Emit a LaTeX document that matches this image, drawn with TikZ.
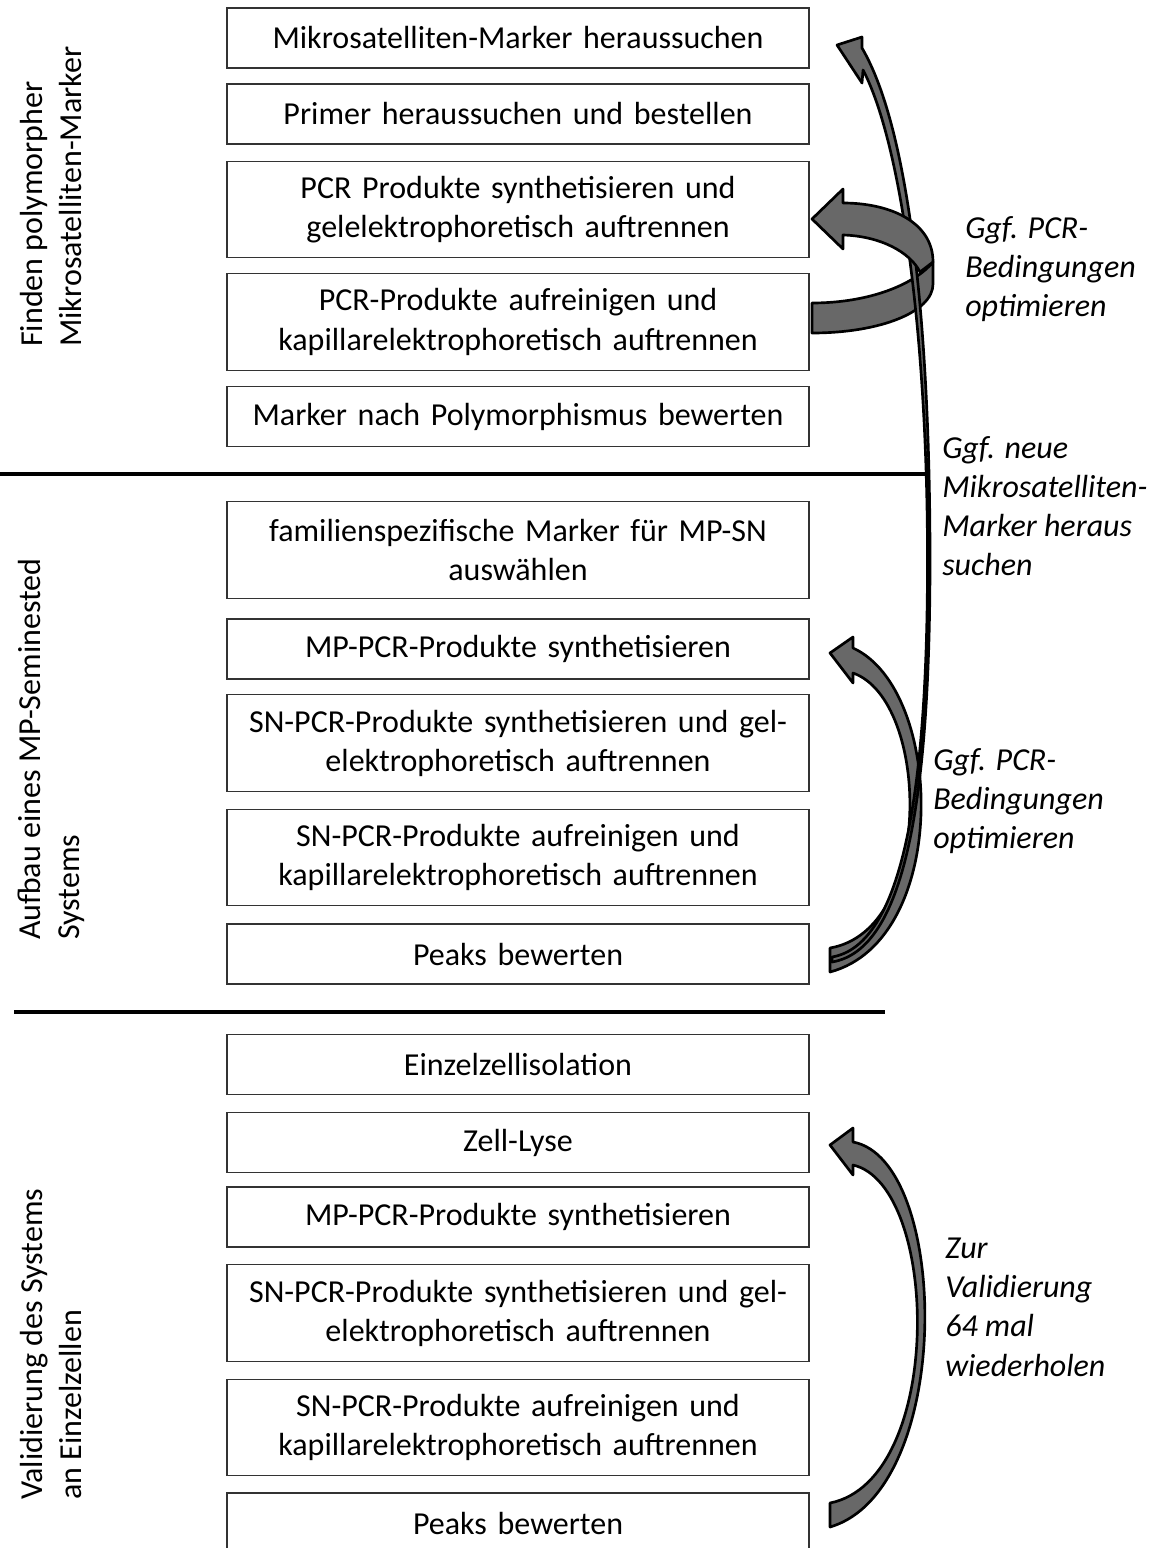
\documentclass[tikz,border=0pt]{standalone}
\usepackage{fontspec}
\setmainfont{Carlito}
\definecolor{arrowgray}{RGB}{104,104,104}
\begin{document}
\begin{tikzpicture}[x=0.75pt,y=-0.75pt,
  stepbox/.style={draw=black!80, line width=0.9pt, fill=white, minimum width=436.5pt,
    text width=425pt, align=center, inner sep=0pt,
    font=\fontsize{24}{29.3}\selectfont},
  onerow/.style={minimum height=45pt},
  tworow/.style={minimum height=72.5pt},
  sidelabel/.style={rotate=90, anchor=west, align=left, inner sep=0pt,
    font=\fontsize{24}{29.3}\selectfont},
  notelabel/.style={anchor=north west, align=left, inner sep=0pt,
    font=\fontsize{24}{29.3}\selectfont\itshape},
  divider/.style={line width=2.8pt, black},
  bentarrow/.style={fill=arrowgray, draw=black, line width=2pt, line join=round}]

\useasboundingbox (0,0) rectangle (1159,1548);

% ---- phase 1: finding polymorphic markers
\node[stepbox, onerow] (s1) at (518,38)    {Mikrosatelliten-Marker heraussuchen};
\node[stepbox, onerow] (s2) at (518,114)   {Primer heraussuchen und bestellen};
\node[stepbox, tworow] (s3) at (518,209.5) {PCR Produkte synthetisieren und\\gelelektrophoretisch auftrennen};
\node[stepbox, tworow] (s4) at (518,322)   {PCR-Produkte aufreinigen und\\kapillarelektrophoretisch auftrennen};
\node[stepbox, onerow] (s5) at (518,416.5) {Marker nach Polymorphismus bewerten};

% ---- phase 2: building the multiplex seminested system
\node[stepbox, tworow] (s6)  at (518,550)   {familienspezifische Marker für MP-SN\\auswählen};
\node[stepbox, onerow] (s7)  at (518,649)   {MP-PCR-Produkte synthetisieren};
\node[stepbox, tworow] (s8)  at (518,743)   {SN-PCR-Produkte synthetisieren und gel-\\elektrophoretisch auftrennen};
\node[stepbox, tworow] (s9)  at (518,857.5) {SN-PCR-Produkte aufreinigen und\\kapillarelektrophoretisch auftrennen};
\node[stepbox, onerow] (s10) at (518,954)   {Peaks bewerten};

% ---- phase 3: validation on single cells
\node[stepbox, onerow] (s11) at (518,1064.5) {Einzelzellisolation};
\node[stepbox, onerow] (s12) at (518,1142.5) {Zell-Lyse};
\node[stepbox, onerow] (s13) at (518,1217)   {MP-PCR-Produkte synthetisieren};
\node[stepbox, tworow] (s14) at (518,1313)   {SN-PCR-Produkte synthetisieren und gel-\\elektrophoretisch auftrennen};
\node[stepbox, tworow] (s15) at (518,1427.5) {SN-PCR-Produkte aufreinigen und\\kapillarelektrophoretisch auftrennen};
\node[stepbox, onerow] (s16) at (518,1523)   {Peaks bewerten};

% ---- phase separators
\coordinate (d1a) at (0,474);   \coordinate (d1b) at (925,474);
\coordinate (d2a) at (14,1012); \coordinate (d2b) at (885,1012);
\draw[divider] (d1a) -- (d1b);
\draw[divider] (d2a) -- (d2b);

% ---- phase titles
\node[sidelabel] (p1) at (51,347)  {Finden polymorpher\\Mikrosatelliten-Marker};
\node[sidelabel] (p2) at (51,940)  {Aufbau eines MP-Seminested\\Systems};
\node[sidelabel] (p3) at (51,1500) {Validierung des Systems\\an Einzelzellen};

% ---- loop arrows
% lower half of the ring around the PCR steps
\draw[bentarrow] (812,303) -- (812,333)
  .. controls (880,333) and (933,312) .. (933,284) -- (933,262)
  .. controls (915,284) and (870,303) .. (812,303) -- cycle;
% repeat PCR in the MP-SN phase
\draw[bentarrow] (830,972) .. controls (950,940) and (945,690) .. (853,648)
  -- (853,637) -- (830,653) -- (853,683) -- (853,673)
  .. controls (930,700) and (935,930) .. (830,948) -- cycle;
% 64 repetitions
\draw[bentarrow] (830,1527) .. controls (955,1490) and (950,1160) .. (853,1142)
  -- (853,1128) -- (830,1145) -- (853,1175) -- (853,1165)
  .. controls (940,1185) and (945,1480) .. (830,1503) -- cycle;
% back to the marker search
\draw[bentarrow] (832,962) .. controls (905,950) and (930,800) .. (930,560)
  .. controls (930,330) and (910,130) .. (862,48)
  -- (862,37) -- (837,45) -- (862,83) -- (863,70)
  .. controls (900,140) and (927.5,330) .. (927.5,560)
  .. controls (927.5,790) and (903,945) .. (832,957) -- cycle;
% upper half of the ring, ending in the head
\draw[bentarrow] (920,272) -- (933,262)
  .. controls (933,222) and (890,203) .. (843,203)
  -- (843,189) -- (812,219) -- (843,249) -- (843,235)
  .. controls (880,236) and (910,252) .. (920,272) -- cycle;

% ---- arrow notes
\node[notelabel] (n1) at (965,216)  {Ggf. PCR-\\Bedingungen\\optimieren};
\node[notelabel] (n2) at (942,436)  {Ggf. neue\\Mikrosatelliten-\\Marker heraus\\suchen};
\node[notelabel] (n3) at (933,748)  {Ggf. PCR-\\Bedingungen\\optimieren};
\node[notelabel] (n4) at (945,1238) {Zur\\Validierung\\64 mal\\wiederholen};
\end{tikzpicture}
\end{document}
